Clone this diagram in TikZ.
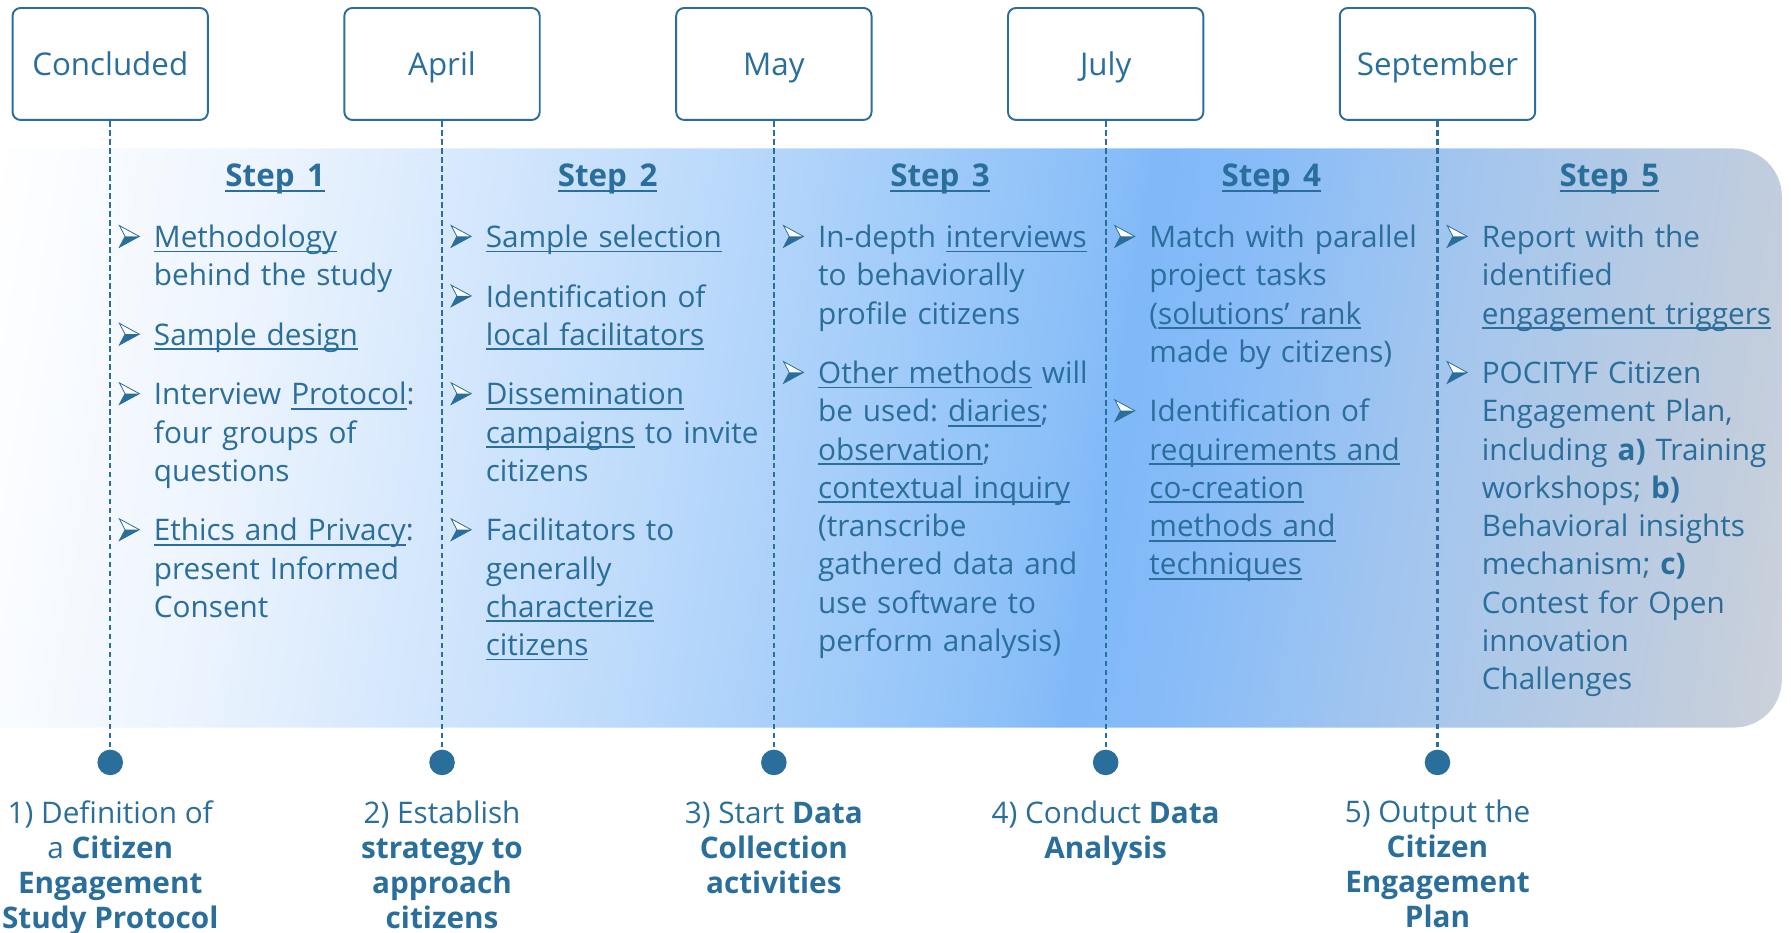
\documentclass[tikz,border=0pt]{standalone}
\usepackage{fontspec}
\setmainfont{Open Sans}
\usetikzlibrary{positioning}
\frenchspacing

\definecolor{tblue}{HTML}{2A6E9B}
\definecolor{bsA}{HTML}{EEF5FE}
\definecolor{bsB}{HTML}{BCDAFB}
\definecolor{bsC}{HTML}{8CC0F8}
\definecolor{bsD}{HTML}{80B8F8}
\definecolor{bsE}{HTML}{88BCF8}
\definecolor{bsF}{HTML}{A4C6EE}
\definecolor{bsG}{HTML}{C4CEDC}
\definecolor{bsH}{HTML}{CCD2DA}

\pgfdeclarehorizontalshading{bandsh}{100bp}{color(0bp)=(white); color(22.9bp)=(white);
  color(30.6bp)=(bsA); color(44.2bp)=(bsB); color(55.5bp)=(bsC); color(57.5bp)=(bsD);
  color(60.5bp)=(bsE); color(67bp)=(bsF); color(76.6bp)=(bsG); color(78.6bp)=(bsH);
  color(100bp)=(bsH)}

\newcommand{\ulin}[1]{\leavevmode\setbox0\hbox{#1}\rlap{\rule[-3pt]{\wd0}{1.1pt}}\box0\relax}

\begin{document}
\begin{tikzpicture}[x=0.025cm, y=-0.025cm,
    mb/.style={draw=tblue, line width=1.2pt, rounded corners=0.175cm, fill=white,
      minimum width=4.275cm, minimum height=2.45cm, text=tblue, text height=14.8pt, text depth=0pt,
      font=\fontsize{19.5}{23}\selectfont},
    dt/.style={circle, fill=tblue, minimum size=0.56cm, inner sep=0pt},
    dl/.style={draw=tblue, line width=1.4pt, dash pattern=on 3.6pt off 2pt},
    hd/.style={anchor=base, inner sep=0pt, text=tblue, font=\bfseries\fontsize{19.5}{23}\selectfont},
    it/.style={anchor=north west, inner sep=0pt, text width=7cm, align=left, text=tblue,
      font=\fontsize{18.5}{23.83}\selectfont},
    lb/.style={align=center, inner sep=0pt, text=tblue, font=\fontsize{18.5}{21.7}\selectfont},
    arw/.pic={
      \filldraw[draw=tblue, fill=white, line width=0.5pt] (0,-19) -- (17.5,-9.5) -- (0,0) -- (5,-9.5) -- cycle;
      \fill[tblue] (5,-9.5) -- (17.5,-9.5) -- (0,0) -- cycle;
    }
  ]
  \useasboundingbox (0,0) rectangle (1568,816);
  \clip (0,0) rectangle (1568,816);
  % background band
  \shade[shading=bandsh, shading angle=-9.1, rounded corners=1.05cm] (-50,130) rectangle (1560,637);
  % months, milestones
  \foreach \m [count=\i] in {Concluded,April,May,July,September} {
    \node[mb] (m\i) at ({96.5+290.5*(\i-1)},56) {\m};
    \node[dt] (d\i) at ({96.5+290.5*(\i-1)},667.5) {};
    \draw[dl] (m\i) -- (d\i);
  }
  \foreach \x [count=\i] in {241,532,823,1113,1409} {
    \node[hd] (h\i) at (\x,163.5) {\ulin{Step\hspace{0.4em}\i}};
  }
  % step 1
  \node[it] (s1a) at (134.5,193) {\strut\ulin{Methodology}\\behind the study\strut};
  \node[below=0.45cm of s1a.south west, it] (s1b) {\strut\ulin{Sample design}\strut};
  \node[below=0.45cm of s1b.south west, it] (s1c) {\strut Interview \ulin{Protocol}:\\four groups of\\questions\strut};
  \node[below=0.45cm of s1c.south west, it] (s1d) {\strut\ulin{Ethics and Privacy}:\\present Informed\\Consent\strut};
  % step 2
  \node[it] (s2a) at (425,193) {\strut\ulin{Sample selection}\strut};
  \node[below=0.45cm of s2a.south west, it] (s2b) {\strut Identification of\\\ulin{local facilitators}\strut};
  \node[below=0.45cm of s2b.south west, it] (s2c) {\strut\ulin{Dissemination}\\\ulin{campaigns} to invite\\citizens\strut};
  \node[below=0.45cm of s2c.south west, it] (s2d) {\strut Facilitators to\\generally\\\ulin{characterize}\\\ulin{citizens}\strut};
  % step 3
  \node[it] (s3a) at (716,193) {\strut In-depth \ulin{interviews}\\to behaviorally\\profile citizens\strut};
  \node[below=0.45cm of s3a.south west, it] (s3b) {\strut\ulin{Other methods} will\\be used: \ulin{diaries};\\\ulin{observation};\\\ulin{contextual inquiry}\\(transcribe\\gathered data and\\use software to\\perform analysis)\strut};
  % step 4
  \node[it] (s4a) at (1006,193) {\strut Match with parallel\\project tasks\\(\ulin{solutions’ rank}\\made by citizens)\strut};
  \node[below=0.45cm of s4a.south west, it] (s4b) {\strut Identification of\\\ulin{requirements and}\\\ulin{co-creation}\\\ulin{methods and}\\\ulin{techniques}\strut};
  % step 5
  \node[it] (s5a) at (1297,193) {\strut Report with the\\identified\\\ulin{engagement triggers}\strut};
  \node[below=0.45cm of s5a.south west, it] (s5b) {\strut POCITYF Citizen\\Engagement Plan,\\including \textbf{a)} Training\\workshops; \textbf{b)}\\Behavioral insights\\mechanism; \textbf{c)}\\Contest for Open\\innovation\\Challenges\strut};
  % bullets
  \foreach \n in {s1a,s1b,s1c,s1d,s2a,s2b,s2c,s2d,s3a,s3b,s4a,s4b,s5a,s5b} {
    \pic at ([xshift=-0.75cm, yshift=-0.5866cm]\n.north west) {arw};
  }
  % milestone labels
  \node[lb, below=0.51cm of d1] (l1) {\strut 1) Definition of\\a \textbf{Citizen}\\\textbf{Engagement}\\\textbf{Study Protocol}};
  \node[lb, below=0.51cm of d2] (l2) {\strut 2) Establish\\\textbf{strategy to}\\\textbf{approach}\\\textbf{citizens}};
  \node[lb, below=0.51cm of d3] (l3) {\strut 3) Start \textbf{Data}\\\textbf{Collection}\\\textbf{activities}};
  \node[lb, below=0.51cm of d4] (l4) {\strut 4) Conduct \textbf{Data}\\\textbf{Analysis}};
  \node[lb, below=0.49cm of d5] (l5) {\strut 5) Output the\\\textbf{Citizen}\\\textbf{Engagement}\\\textbf{Plan}};
\end{tikzpicture}
\end{document}
